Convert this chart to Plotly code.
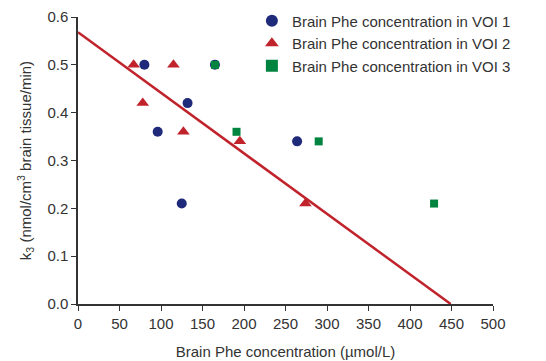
import plotly.graph_objects as go

# Data
voi1_x = [80, 96, 132, 125, 165, 264]
voi1_y = [0.50, 0.36, 0.42, 0.21, 0.50, 0.34]
voi2_x = [67, 78, 115, 127, 195, 274]
voi2_y = [0.50, 0.42, 0.50, 0.36, 0.34, 0.21]
voi3_x = [165, 191, 290, 429]
voi3_y = [0.50, 0.36, 0.34, 0.21]
fit_x = [0, 449]
fit_y = [0.568, 0.0]

x_ticks = [0, 50, 100, 150, 200, 250, 300, 350, 400, 450, 500]
y_ticks = [0.0, 0.1, 0.2, 0.3, 0.4, 0.5, 0.6]

font_fam = "Liberation Sans, Arial, sans-serif"
txt = "#333333"
fs = 15

fig = go.Figure()
fig.add_trace(go.Scatter(x=fit_x, y=fit_y, mode="lines", showlegend=False,
                         line=dict(color="#c0232b", width=2.5), hoverinfo="skip"))
fig.add_trace(go.Scatter(x=voi1_x, y=voi1_y, mode="markers",
                         name="Brain Phe concentration in VOI 1",
                         marker=dict(symbol="circle", size=10, color="#1f2a7a")))
fig.add_trace(go.Scatter(x=voi2_x, y=voi2_y, mode="markers",
                         name="Brain Phe concentration in VOI 2",
                         marker=dict(symbol="triangle-up", size=11, color="#c0232b")))
fig.add_trace(go.Scatter(x=voi3_x, y=voi3_y, mode="markers",
                         name="Brain Phe concentration in VOI 3",
                         marker=dict(symbol="square", size=8, color="#00843f")))

# page has an 8px body margin, so the figure is drawn 8px in from the top-left
fig.update_layout(
    width=538, height=353,
    margin=dict(l=70, r=53, t=9, b=57, autoexpand=False),
    paper_bgcolor="white", plot_bgcolor="white",
    font=dict(family=font_fam, size=fs, color=txt),
    legend=dict(x=0.419, y=1.0435, xanchor="left", yanchor="top",
                bgcolor="rgba(0,0,0,0)", font=dict(size=fs, color=txt),
                tracegroupgap=0, itemsizing="constant"),
    xaxis=dict(range=[0, 500], tickvals=x_ticks, ticktext=[str(v) for v in x_ticks],
               showgrid=False, zeroline=False, showline=True, linecolor="#333333",
               linewidth=1.5, ticks="outside", ticklen=5, tickcolor="#333333",
               tickfont=dict(size=fs, color=txt), automargin=False,
               title=dict(text="Brain Phe concentration (µmol/L)", standoff=16,
                          font=dict(size=fs, color=txt))),
    yaxis=dict(range=[0, 0.6], tickvals=y_ticks, ticktext=[f"{v:.1f}" for v in y_ticks],
               showgrid=False, zeroline=False, showline=True, linecolor="#333333",
               linewidth=1.5, ticks="outside", ticklen=5, tickcolor="#333333",
               tickfont=dict(size=fs, color=txt), automargin=False,
               title=dict(text="k<sub>3</sub> (nmol/cm<sup>3</sup> brain tissue/min)",
                          standoff=12, font=dict(size=fs, color=txt))),
)

fig.write_html("out.html")
